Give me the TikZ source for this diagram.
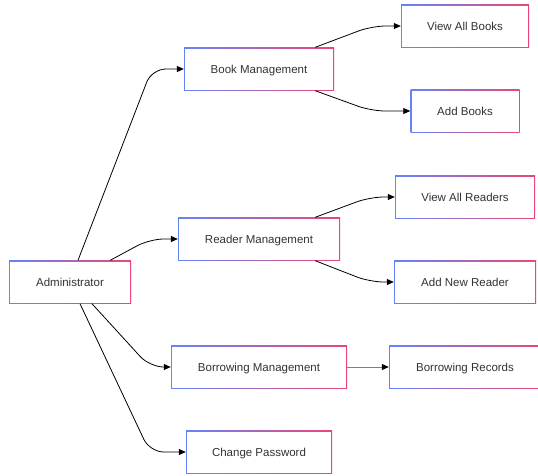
\documentclass[tikz,border=0pt]{standalone}
\usepackage{fontspec}
\setmainfont{Liberation Sans}
\usetikzlibrary{arrows.meta}

\definecolor{edgeblue}{RGB}{100,132,250}
\definecolor{edgepink}{RGB}{236,70,118}
\definecolor{labelgray}{RGB}{51,51,51}

\tikzset{
  box/.style={minimum height=43pt, inner sep=0pt, text=labelgray,
    text height=8.2pt, text depth=0pt,
    font=\fontsize{11.5}{13}\selectfont,
    path picture={
      \shade[left color=edgeblue, right color=edgepink]
        (path picture bounding box.south west) rectangle (path picture bounding box.north east);
      \fill[white]
        ([shift={(1pt,1pt)}]path picture bounding box.south west) rectangle
        ([shift={(-1pt,-1pt)}]path picture bounding box.north east);
    }},
  link/.style={draw=black, line width=0.8pt, rounded corners=14pt,
    -{Triangle[length=7pt,width=6pt,color=black]}},
}

\begin{document}
\begin{tikzpicture}[x=1pt,y=-1pt]
  \useasboundingbox[fill=white] (0,0) rectangle (538,475);

  % nodes
  \node[box, minimum width=122pt] (admin)       at (70,282)  {Administrator};
  \node[box, minimum width=150pt] (book)        at (259,69)  {Book Management};
  \node[box, minimum width=162pt] (reader)      at (259,239) {Reader Management};
  \node[box, minimum width=176pt] (borrow)      at (259,367) {Borrowing Management};
  \node[box, minimum width=146pt] (password)    at (259,452) {Change Password};
  \node[box, minimum width=128pt] (viewbooks)   at (465,26)  {View All Books};
  \node[box, minimum width=109pt] (addbooks)    at (465,111) {Add Books};
  \node[box, minimum width=140pt] (viewreaders) at (465,197) {View All Readers};
  \node[box, minimum width=142pt] (addreader)   at (465,282) {Add New Reader};
  \node[box, minimum width=152pt] (records)     at (465,367) {Borrowing Records};

  % administrator
  \draw[link] ([xshift=8pt]admin.north) -- ([xshift=-32pt]book.west) -- (book.west);
  \draw[link] ([xshift=-21pt]admin.north east) -- ([xshift=-28pt]reader.west) -- (reader.west);
  \draw[link] ([xshift=22pt]admin.south) -- ([xshift=-21pt]borrow.west) -- (borrow.west);
  \draw[link] ([xshift=10pt]admin.south) -- ([xshift=-36pt]password.west) -- (password.west);

  % books
  \draw[link] ([xshift=-19pt]book.north east) -- ([xshift=-29pt]viewbooks.west) -- (viewbooks.west);
  \draw[link] ([xshift=-19pt]book.south east) -- ([xshift=-39pt]addbooks.west) -- (addbooks.west);

  % readers
  \draw[link] ([xshift=-25pt]reader.north east) -- ([xshift=-25pt]viewreaders.west) -- (viewreaders.west);
  \draw[link] ([xshift=-25pt]reader.south east) -- ([xshift=-24pt]addreader.west) -- (addreader.west);

  % borrowing
  \draw[link, draw=gray] (borrow.east) -- (records.west);
\end{tikzpicture}
\end{document}
